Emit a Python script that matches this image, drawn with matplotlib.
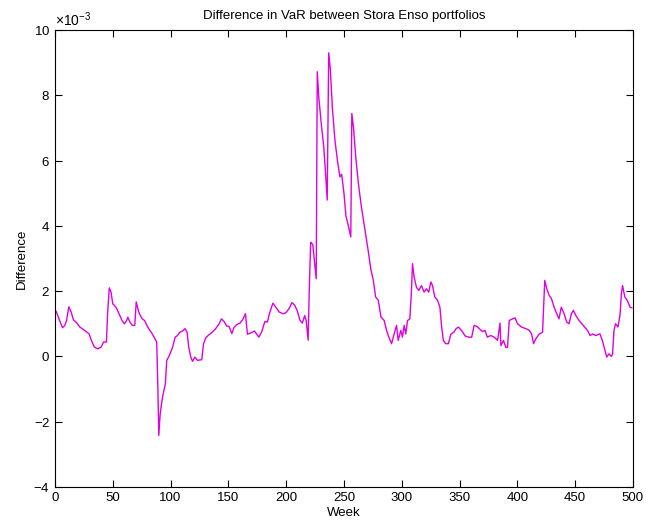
import numpy as np
import matplotlib
matplotlib.use("Agg")
import matplotlib.pyplot as plt
from matplotlib.ticker import ScalarFormatter, MultipleLocator

# VaR difference between the two Stora Enso portfolios, in units of 1e-3
week = [1, 4, 6.5, 8.5, 10, 12, 14, 16, 18.5, 21.5, 25.5, 29.5, 31.5, 34, 37, 40,
        42, 44.5, 45.5, 47, 48.5, 50, 51.5, 53.5, 56, 58, 60, 62, 63, 65, 67, 69,
        70.3, 71.7, 73, 75.5, 77.5, 79.5, 82, 84, 86, 88, 89, 89.8, 91, 93, 95.5,
        96.7, 99, 101.8, 104, 106, 108, 110.5, 112.5, 114.3, 115.7, 117.5, 119,
        121, 123.3, 127, 128.5, 130.5, 133, 136, 139, 142, 144, 146.3, 148.6,
        150.6, 153, 155, 157.5, 160, 162.3, 164.8, 166.5, 170.7, 172.5, 176.4,
        179, 181.6, 183.7, 185.5, 188.5, 191, 194, 197, 199.5, 202.3, 205, 207.5,
        209.5, 212, 214, 216, 217.3, 219, 220, 221.2, 223, 224.7, 226, 226.9,
        228.2, 230.5, 232.5, 234.2, 235.5, 236.2, 236.8, 238.2, 240, 242.2,
        244.5, 246.5, 248, 250, 251.7, 253.7, 255.9, 256.8, 258.2, 260.2, 262.5,
        265, 268.2, 270.9, 273.4, 275.4, 277.4, 279.7, 282, 284.8, 286.8, 288.8,
        291.2, 293.4, 295.5, 296.9, 299.2, 300.6, 302.1, 303.5, 305, 307, 308.4,
        309.3, 310.7, 312.7, 314.7, 317, 319.3, 321.4, 323.3, 325.2, 326.6,
        328.6, 331, 333, 334.5, 336, 338, 340.3, 342.5, 345, 347, 349, 352, 355,
        358, 360.5, 362.6, 365, 368, 370, 372, 374, 377, 380, 382.9, 385, 385.8,
        388, 390, 391.5, 393, 395.8, 398, 400.2, 403.6, 407.4, 410.3, 412.3, 414,
        416, 419, 421.8, 422.7, 423.7, 425.5, 427.5, 429.5, 431.8, 434, 436, 438,
        440.4, 442.7, 444.7, 446.8, 448.5, 450.5, 453.4, 457, 460.6, 463, 465,
        467.8, 471.5, 473.5, 475.5, 477.3, 479.3, 481.3, 482.4, 483.6, 485, 487,
        488.8, 490, 491, 493, 495, 497.5, 499]

diff_e3 = [1.38, 1.10, 0.88, 0.95, 1.10, 1.52, 1.36, 1.12, 1.04, 0.90, 0.80, 0.69,
           0.49, 0.29, 0.23, 0.29, 0.44, 0.44, 1.30, 2.10, 1.97, 1.61, 1.56, 1.46,
           1.26, 1.10, 1.00, 1.10, 1.20, 1.04, 0.95, 0.95, 1.67, 1.46, 1.31, 1.15,
           1.10, 0.95, 0.80, 0.70, 0.57, 0.44, -0.94, -2.42, -1.76, -1.25, -0.84,
           -0.12, 0.03, 0.29, 0.59, 0.64, 0.74, 0.78, 0.85, 0.74, 0.29, -0.02,
           -0.15, -0.02, -0.12, -0.10, 0.39, 0.57, 0.66, 0.74, 0.85, 1.00, 1.15,
           1.07, 0.93, 0.92, 0.70, 0.90, 0.98, 1.02, 1.12, 1.31, 0.68, 0.74, 0.78,
           0.59, 0.77, 1.07, 1.05, 1.31, 1.63, 1.51, 1.36, 1.31, 1.33, 1.45, 1.65,
           1.56, 1.41, 1.10, 1.02, 1.25, 1.10, 0.50, 2.07, 3.50, 3.43, 2.84, 2.38,
           8.72, 7.95, 7.08, 6.42, 5.55, 4.79, 7.10, 9.30, 8.80, 7.60, 6.62, 5.96,
           5.50, 5.58, 5.00, 4.30, 4.02, 3.66, 7.44, 7.03, 6.11, 5.29, 4.60, 3.87,
           3.25, 2.64, 2.33, 1.82, 1.72, 1.21, 1.10, 0.80, 0.59, 0.39, 0.69, 0.95,
           0.49, 0.80, 0.59, 0.95, 0.69, 1.10, 1.15, 2.02, 2.84, 2.43, 2.12, 2.02,
           2.17, 1.97, 2.07, 1.97, 2.28, 2.17, 1.82, 1.72, 1.51, 0.90, 0.49, 0.39,
           0.39, 0.68, 0.74, 0.85, 0.90, 0.78, 0.62, 0.59, 0.59, 0.95, 0.92, 0.82,
           0.76, 0.80, 0.59, 0.64, 0.59, 0.49, 1.02, 0.33, 0.49, 0.28, 0.28, 1.10,
           1.15, 1.18, 1.00, 0.90, 0.85, 0.80, 0.69, 0.39, 0.54, 0.69, 0.74, 1.51,
           2.33, 2.07, 1.87, 1.77, 1.51, 1.31, 1.15, 1.51, 1.31, 1.05, 1.00, 1.31,
           1.41, 1.26, 1.10, 0.95, 0.80, 0.64, 0.69, 0.64, 0.69, 0.49, 0.23, -0.02,
           0.08, 0.00, 0.08, 0.80, 1.00, 0.90, 1.26, 1.92, 2.17, 1.82, 1.72, 1.51,
           1.49]

plt.rcParams['font.family'] = ['Liberation Sans', 'DejaVu Sans']
plt.rcParams['font.size'] = 10
plt.rcParams['axes.unicode_minus'] = False
plt.rcParams['mathtext.fontset'] = 'custom'
plt.rcParams['mathtext.rm'] = 'Liberation Sans'

fig = plt.figure(figsize=(6.46, 5.27), dpi=100)
ax = fig.add_axes([0.0851, 0.0759, 0.8947, 0.8672])

ax.plot(week, np.array(diff_e3) * 1e-3, color='#e000e0', lw=1.0)

ax.set_xlim(0, 500)
ax.set_ylim(-4e-3, 10e-3)
ax.xaxis.set_major_locator(MultipleLocator(50))
ax.yaxis.set_major_locator(MultipleLocator(2e-3))

fmt = ScalarFormatter(useMathText=True)
fmt.set_powerlimits((-3, -3))
ax.yaxis.set_major_formatter(fmt)

ax.tick_params(direction='in', length=5, top=True, right=True, width=0.8,
               labelsize=9.5)
for s in ax.spines.values():
    s.set_linewidth(0.8)

ax.set_title('Difference in VaR between Stora Enso portfolios', fontsize=9.5, pad=8)
ax.set_xlabel('Week', fontsize=9.5, labelpad=2)
ax.set_ylabel('Difference', fontsize=9.5, labelpad=4)

fig.savefig('out.png', dpi=100)
